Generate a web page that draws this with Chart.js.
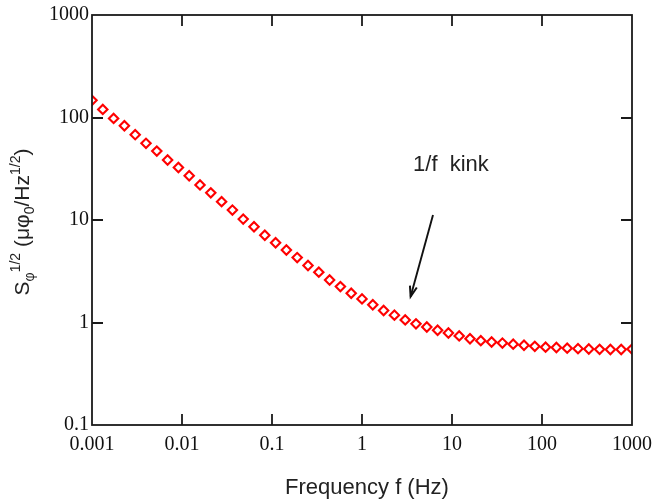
<!DOCTYPE html>
<html><head><meta charset="utf-8">
<script src="https://cdn.jsdelivr.net/npm/chart.js@4"></script>
<style>html,body{margin:0;padding:0;background:#fff;} canvas{display:block;}</style>
</head><body>
<canvas id="c" width="660" height="503"></canvas>
<script>
// ---- data ----
const frequencies = [
  0.001, 0.001318, 0.001738, 0.002291, 0.003020, 0.003981, 0.005248, 0.006918, 0.009120,
  0.01202, 0.01585, 0.02089, 0.02754, 0.03631, 0.04786, 0.06310, 0.08318,
  0.1096, 0.1445, 0.1905, 0.2512, 0.3311, 0.4365, 0.5754, 0.7586,
  1, 1.318, 1.738, 2.291, 3.020, 3.981, 5.248, 6.918, 9.120,
  12.02, 15.85, 20.89, 27.54, 36.31, 47.86, 63.10, 83.18,
  109.6, 144.5, 190.5, 251.2, 331.1, 436.5, 575.4, 758.6, 1000
];
const noiseValues = [
  147, 120, 98, 83, 68, 56, 47, 38.5, 32.5,
  27, 22, 18.4, 15.1, 12.5, 10.2, 8.6, 7.1,
  6.0, 5.1, 4.3, 3.6, 3.1, 2.6, 2.24, 1.93,
  1.70, 1.49, 1.31, 1.18, 1.06, 0.97, 0.905, 0.84, 0.79,
  0.74, 0.695, 0.665, 0.645, 0.63, 0.615, 0.60, 0.585,
  0.575, 0.57, 0.562, 0.556, 0.551, 0.547, 0.545, 0.545, 0.55
];
const xTickValues = [0.001, 0.01, 0.1, 1, 10, 100, 1000];
const xTickLabels = ['0.001', '0.01', '0.1', '1', '10', '100', '1000'];
const yTickValues = [0.1, 1, 10, 100, 1000];
const yTickLabels = ['0.1', '1', '10', '100', '1000'];
const xAxisTitle = 'Frequency f (Hz)';
const yAxisTitleParts = [
  ['S', 'n'], ['\u03C6', 'sub'], ['1/2', 'sup'], [' (\u03BC\u03C6', 'n'], ['0', 'sub'],
  ['/Hz', 'n'], ['1/2', 'sup'], [')', 'n']
];
const annotationText = '1/f  kink';
const annotationTextAt = [3.69, 34.3];
const arrowFrom = [6.15, 11.2];
const arrowTo = [3.47, 1.79];

// ---- styles ----
const SANS = '"Liberation Sans", Arial, sans-serif';
const SERIF = '"Liberation Serif", "Times New Roman", serif';
const INK = '#1a1a1a';

const decorPlugin = {
  id: 'decor',
  afterDraw(chart) {
    const {ctx, chartArea: a, scales: {x, y}} = chart;
    ctx.save();
    // frame
    ctx.strokeStyle = INK;
    ctx.lineWidth = 1.8;
    ctx.strokeRect(a.left, a.top, a.right - a.left, a.bottom - a.top);
    // inward ticks
    const tl = 11;
    ctx.beginPath();
    xTickValues.forEach(v => {
      const px = Math.round(x.getPixelForValue(v));
      if (px <= a.left + 1 || px >= a.right - 1) return;
      ctx.moveTo(px, a.bottom); ctx.lineTo(px, a.bottom - tl);
      ctx.moveTo(px, a.top); ctx.lineTo(px, a.top + tl);
    });
    yTickValues.forEach(v => {
      const py = Math.round(y.getPixelForValue(v));
      if (py <= a.top + 1 || py >= a.bottom - 1) return;
      ctx.moveTo(a.left, py); ctx.lineTo(a.left + tl, py);
      ctx.moveTo(a.right, py); ctx.lineTo(a.right - tl, py);
    });
    ctx.stroke();

    // x title
    ctx.fillStyle = '#222';
    ctx.font = '22px ' + SANS;
    ctx.textAlign = 'center';
    ctx.textBaseline = 'middle';
    ctx.fillText(xAxisTitle, (a.left + a.right) / 2 + 5, 488);

    // y title (rotated, with sub/superscripts)
    const big = '21px ' + SANS, small = '14px ' + SANS;
    let total = 0;
    yAxisTitleParts.forEach(([t, k]) => { ctx.font = k === 'n' ? big : small; total += ctx.measureText(t).width; });
    ctx.save();
    ctx.translate(29, (a.top + a.bottom) / 2 + 2);
    ctx.rotate(-Math.PI / 2);
    ctx.textAlign = 'left';
    ctx.textBaseline = 'alphabetic';
    let cx = -total / 2;
    yAxisTitleParts.forEach(([t, k]) => {
      ctx.font = k === 'n' ? big : small;
      const dy = k === 'sub' ? 5 : (k === 'sup' ? -9 : 0);
      ctx.fillText(t, cx, dy);
      cx += ctx.measureText(t).width;
    });
    ctx.restore();

    // annotation
    ctx.font = '22px ' + SANS;
    ctx.textAlign = 'left';
    ctx.textBaseline = 'middle';
    ctx.fillStyle = '#222';
    ctx.fillText(annotationText, x.getPixelForValue(annotationTextAt[0]), y.getPixelForValue(annotationTextAt[1]));

    const x1 = x.getPixelForValue(arrowFrom[0]), y1 = y.getPixelForValue(arrowFrom[1]);
    const x2 = x.getPixelForValue(arrowTo[0]), y2 = y.getPixelForValue(arrowTo[1]);
    ctx.strokeStyle = '#111';
    ctx.lineWidth = 1.9;
    ctx.beginPath(); ctx.moveTo(x1, y1); ctx.lineTo(x2, y2); ctx.stroke();
    const ang = Math.atan2(y2 - y1, x2 - x1), hl = 11, ha = 0.33;
    ctx.lineWidth = 2;
    ctx.beginPath();
    ctx.moveTo(x2 - hl * Math.cos(ang - ha), y2 - hl * Math.sin(ang - ha));
    ctx.lineTo(x2, y2);
    ctx.lineTo(x2 - hl * Math.cos(ang + ha), y2 - hl * Math.sin(ang + ha));
    ctx.stroke();
    ctx.restore();
  }
};

new Chart(document.getElementById('c'), {
  type: 'scatter',
  data: {
    datasets: [{
      data: frequencies.map((f, i) => ({x: f, y: noiseValues[i]})),
      showLine: false,
      pointStyle: 'rectRot',
      radius: 4.7,
      borderWidth: 2.1,
      borderColor: '#ff0000',
      backgroundColor: 'rgba(255,255,255,0)',
      clip: 0
    }]
  },
  options: {
    responsive: false,
    animation: false,
    devicePixelRatio: 1,
    layout: {padding: {left: 0, right: 28, top: 15, bottom: 0}},
    plugins: {legend: {display: false}, tooltip: {enabled: false}},
    scales: {
      x: {
        type: 'logarithmic', min: 0.001, max: 1000,
        afterBuildTicks: s => { s.ticks = xTickValues.map(v => ({value: v})); },
        afterFit: s => { s.height = 78; },
        grid: {display: false, drawTicks: false},
        border: {display: false},
        ticks: {
          autoSkip: false, maxRotation: 0, padding: 8, color: '#111',
          font: {family: SERIF, size: 20},
          callback: (v) => { const i = xTickValues.indexOf(v); return i >= 0 ? xTickLabels[i] : ''; }
        }
      },
      y: {
        type: 'logarithmic', min: 0.1, max: 1000,
        afterBuildTicks: s => { s.ticks = yTickValues.map(v => ({value: v})); },
        afterFit: s => { s.width = 92; },
        grid: {display: false, drawTicks: false},
        border: {display: false},
        ticks: {
          autoSkip: false, padding: 3, color: '#111',
          font: {family: SERIF, size: 20},
          callback: (v) => { const i = yTickValues.indexOf(v); return i >= 0 ? yTickLabels[i] : ''; }
        }
      }
    }
  },
  plugins: [decorPlugin]
});
</script>
</body></html>
